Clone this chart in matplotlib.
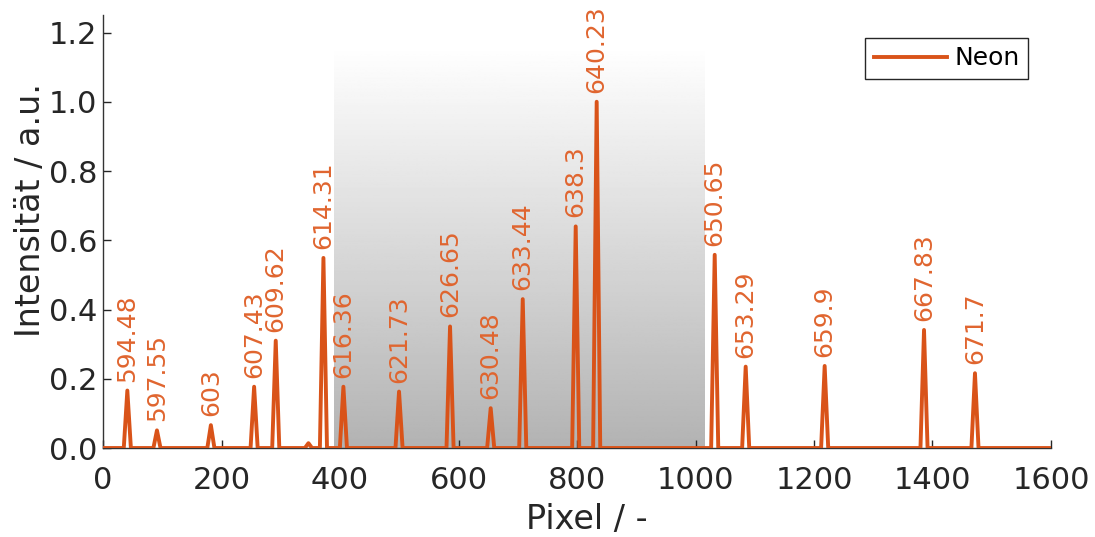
import numpy as np
import matplotlib.pyplot as plt

# Neon lines: pixel position, relative intensity, wavelength label (nm)
peak_pixel = [41, 91, 182, 255, 291.5, 346.7, 372, 405.7, 499.6, 585.7,
              654.3, 708.4, 797.8, 833.2, 1032.4, 1084.7, 1218, 1385.7, 1471.7]
peak_height = [0.166, 0.051, 0.066, 0.177, 0.31, 0.014, 0.549, 0.177, 0.163, 0.351,
               0.115, 0.43, 0.64, 1.0, 0.558, 0.235, 0.237, 0.341, 0.216]
peak_label = ['594.48', '597.55', '603', '607.43', '609.62', '', '614.31', '616.36',
              '621.73', '626.65', '630.48', '633.44', '638.3', '640.23', '650.65',
              '653.29', '659.9', '667.83', '671.7']

pixel_range = [0, 1600]
shade_x = [389, 1014]     # shaded pixel window
shade_top = 1.16

orange = '#D95319'
half_width = 6

# build the spectrum trace from the peak list
xs = [pixel_range[0]]
ys = [0.0]
for c, h in zip(peak_pixel, peak_height):
    xs += [c - half_width, c, c + half_width]
    ys += [0.0, h, 0.0]
xs.append(pixel_range[1])
ys.append(0.0)

plt.rcParams['font.family'] = 'DejaVu Sans'

fig = plt.figure(figsize=(10.95, 5.37), dpi=100)
ax = fig.add_axes([0.0941, 0.1657, 0.8657, 0.806])

grad = np.linspace(0.70, 1.0, 256).reshape(-1, 1)
ax.imshow(grad, cmap='gray', vmin=0, vmax=1, origin='lower', aspect='auto',
          extent=[shade_x[0], shade_x[1], 0, shade_top], zorder=0)

ax.plot(xs, ys, color=orange, linewidth=2.8, solid_joinstyle='round',
        label='Neon', zorder=3)

for c, h, lab in zip(peak_pixel, peak_height, peak_label):
    if lab:
        ax.annotate(lab, (c, h), xytext=(0, 6.5), textcoords='offset points',
                    rotation=90, ha='center', va='bottom', fontsize=18,
                    color='#E0652F', zorder=4)

ax.set_xlim(pixel_range)
ax.set_ylim(0, 1.25)
ax.set_xticks(np.arange(0, 1601, 200))
ax.set_yticks(np.arange(0, 1.21, 0.2))
ax.yaxis.set_major_formatter(plt.FormatStrFormatter('%.1f'))
ax.tick_params(direction='in', length=6, width=1, labelsize=22, colors='#262626')
ax.tick_params(axis='x', pad=13)
ax.tick_params(axis='y', pad=4)
for s in ['top', 'right']:
    ax.spines[s].set_visible(False)
for s in ['left', 'bottom']:
    ax.spines[s].set_color('#333333')
    ax.spines[s].set_linewidth(1)

ax.set_xlabel('Pixel / -', fontsize=24, color='#262626')
ax.set_ylabel('Intensität / a.u.', fontsize=24, color='#262626')
ax.xaxis.set_label_coords(0.51, -0.128)
ax.yaxis.set_label_coords(-0.059, 0.55)

leg = ax.legend(loc='upper right', bbox_to_anchor=(0.989, 0.977), fontsize=18,
                fancybox=False, framealpha=1, edgecolor='#262626',
                handlelength=2.9, borderpad=0.35, handletextpad=0.3)
leg.get_frame().set_linewidth(1)

fig.savefig('out.png', dpi=100)
